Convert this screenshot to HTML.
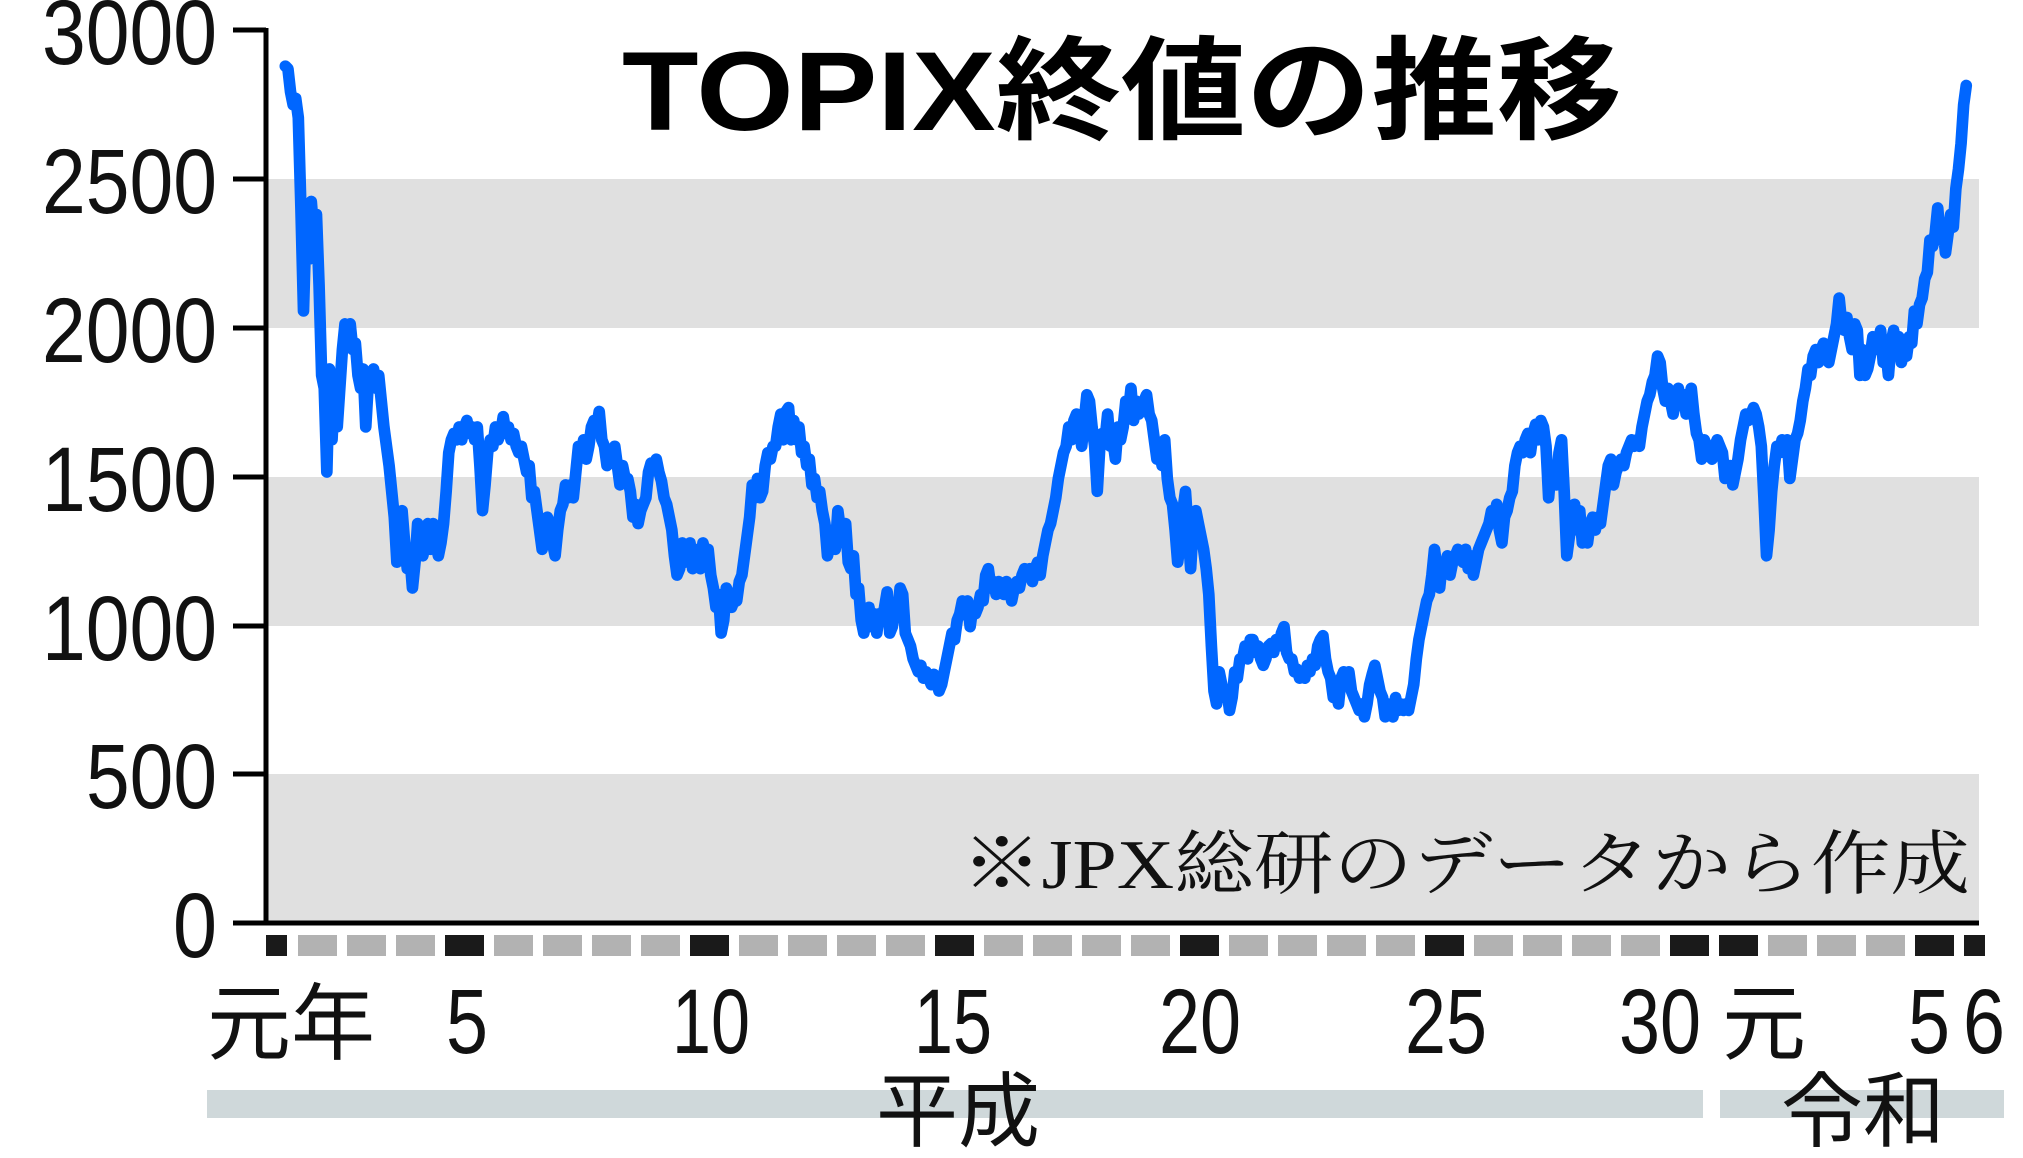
<!DOCTYPE html>
<html><head><meta charset="utf-8"><style>html,body{margin:0;padding:0;background:#fff}svg{display:block}</style></head>
<body>
<svg width="2023" height="1158" viewBox="0 0 2023 1158" xmlns="http://www.w3.org/2000/svg">
<rect width="2023" height="1158" fill="#fff"/>
<g fill="#e0e0e0">
<rect x="268" y="179" width="1711" height="149"/>
<rect x="268" y="477" width="1711" height="149"/>
<rect x="268" y="774" width="1711" height="149"/>
</g>
<g stroke="#000" stroke-width="5">
<line x1="266" y1="28" x2="266" y2="925"/>
<line x1="233" y1="923" x2="1979" y2="923"/>
<line x1="233" y1="30" x2="266" y2="30"/>
<line x1="233" y1="179" x2="266" y2="179"/>
<line x1="233" y1="328" x2="266" y2="328"/>
<line x1="233" y1="477" x2="266" y2="477"/>
<line x1="233" y1="626" x2="266" y2="626"/>
<line x1="233" y1="774" x2="266" y2="774"/>
</g>
<g font-family="'Liberation Sans', sans-serif" font-size="92" fill="#111" text-anchor="end">
<text x="217" y="64" textLength="175" lengthAdjust="spacingAndGlyphs">3000</text>
<text x="217" y="213" textLength="175" lengthAdjust="spacingAndGlyphs">2500</text>
<text x="217" y="362" textLength="175" lengthAdjust="spacingAndGlyphs">2000</text>
<text x="217" y="511" textLength="175" lengthAdjust="spacingAndGlyphs">1500</text>
<text x="217" y="660" textLength="175" lengthAdjust="spacingAndGlyphs">1000</text>
<text x="217" y="808" textLength="131" lengthAdjust="spacingAndGlyphs">500</text>
<text x="217" y="957" textLength="44" lengthAdjust="spacingAndGlyphs">0</text>
</g>
<text x="622" y="130" font-family="'Liberation Sans','Noto Sans CJK JP',sans-serif" font-weight="bold" font-size="112" textLength="1000" lengthAdjust="spacingAndGlyphs" fill="#000">TOPIX終値の推移</text>
<text x="962" y="888" font-family="'Liberation Serif','Noto Serif CJK SC',serif" font-size="70" textLength="1008" lengthAdjust="spacingAndGlyphs" fill="#111">※JPX総研のデータから作成</text>
<g fill="#b2b2b2">
<rect x="266" y="935" width="21" height="21" fill="#1a1a1a"/>
<rect x="298" y="935" width="39" height="21"/><rect x="347" y="935" width="39" height="21"/><rect x="396" y="935" width="39" height="21"/>
<rect x="445" y="935" width="39" height="21" fill="#1a1a1a"/>
<rect x="494" y="935" width="39" height="21"/><rect x="543" y="935" width="39" height="21"/><rect x="592" y="935" width="39" height="21"/><rect x="641" y="935" width="39" height="21"/>
<rect x="690" y="935" width="39" height="21" fill="#1a1a1a"/>
<rect x="739" y="935" width="39" height="21"/><rect x="788" y="935" width="39" height="21"/><rect x="837" y="935" width="39" height="21"/><rect x="886" y="935" width="39" height="21"/>
<rect x="935" y="935" width="39" height="21" fill="#1a1a1a"/>
<rect x="984" y="935" width="39" height="21"/><rect x="1033" y="935" width="39" height="21"/><rect x="1082" y="935" width="39" height="21"/><rect x="1131" y="935" width="39" height="21"/>
<rect x="1180" y="935" width="39" height="21" fill="#1a1a1a"/>
<rect x="1229" y="935" width="39" height="21"/><rect x="1278" y="935" width="39" height="21"/><rect x="1327" y="935" width="39" height="21"/><rect x="1376" y="935" width="39" height="21"/>
<rect x="1425" y="935" width="39" height="21" fill="#1a1a1a"/>
<rect x="1474" y="935" width="39" height="21"/><rect x="1523" y="935" width="39" height="21"/><rect x="1572" y="935" width="39" height="21"/><rect x="1621" y="935" width="39" height="21"/>
<rect x="1670" y="935" width="39" height="21" fill="#1a1a1a"/>
<rect x="1719" y="935" width="39" height="21" fill="#1a1a1a"/>
<rect x="1768" y="935" width="39" height="21"/><rect x="1817" y="935" width="39" height="21"/><rect x="1866" y="935" width="39" height="21"/>
<rect x="1915" y="935" width="39" height="21" fill="#1a1a1a"/>
<rect x="1964" y="935" width="21" height="21" fill="#1a1a1a"/>
</g>
<polyline fill="none" stroke="#0066ff" stroke-width="9" stroke-linejoin="round" stroke-linecap="round" transform="matrix(1.297 0 0 1.2886 0 1.7)" points="
220,50 222,52 224,70 226,80 228,75 230,90 232,160 234,240 236,170 238,200
240,155 242,180 244,165 246,220 248,290 250,300 252,365 254,285 256,340 258,300
260,330 262,300 264,270 266,250 268,260 270,250 272,270 274,265 276,290 278,300
280,285 282,330 284,295 286,300 288,285 290,300 292,290 294,310 296,330 298,345
300,360 302,380 304,400 306,435 308,400 310,395 312,420 314,440 316,430 318,455
320,435 322,405 324,410 326,430 328,420 330,405 332,425 334,405 336,420 338,430
340,420 342,405 344,380 346,350 348,340 350,335 352,340 354,330 356,340 358,330
360,325 362,335 364,330 366,340 368,330 370,360 372,395 374,375 376,350 378,340
380,345 382,330 384,340 386,335 388,322 390,335 392,330 394,340 396,335 398,345
400,350 402,345 404,355 406,365 408,360 410,385 412,380 414,395 416,410 418,425
420,410 422,400 424,405 426,420 428,430 430,410 432,395 434,390 436,375 438,385
440,375 442,385 444,365 446,345 448,350 450,340 452,355 454,345 456,330 458,325
460,330 462,318 464,340 466,345 468,360 470,355 472,350 474,345 476,360 478,375
480,360 482,370 484,370 486,380 488,400 490,390 492,405 494,395 496,390 498,385
500,365 502,358 504,362 506,355 508,365 510,372 512,385 514,390 516,400 518,410
520,430 522,445 524,440 526,420 528,435 530,425 532,420 534,440 536,425 538,430
540,440 542,420 544,430 546,425 548,445 550,455 552,470 554,460 556,490 558,480
560,455 562,460 564,470 566,465 568,465 570,450 572,445 574,430 576,415 578,400
580,375 582,385 584,370 586,385 588,380 590,360 592,350 594,355 596,345 598,345
600,330 602,320 604,340 606,318 608,315 610,340 612,325 614,340 616,330 618,350
620,345 622,360 624,355 626,375 628,370 630,385 632,380 634,395 636,405 638,430
640,420 642,410 644,425 646,395 648,410 650,420 652,405 654,435 656,440 658,430
660,460 662,455 664,480 666,490 668,480 670,470 672,485 674,475 676,490 678,475
680,480 682,470 684,458 686,490 688,485 690,470 692,475 694,455 696,460 698,490
700,495 702,500 704,510 706,515 708,520 710,515 712,525 714,520 716,525 718,530
720,522 722,528 724,535 726,530 728,520 730,510 732,500 734,490 736,495 738,480
740,475 742,465 744,475 746,465 748,485 750,470 752,475 754,470 756,460 758,465
760,445 762,440 764,455 766,450 768,460 770,450 772,455 774,460 776,450 778,455
780,465 782,455 784,450 786,455 788,445 790,440 792,445 794,440 796,450 798,440
800,435 802,445 804,430 806,420 808,410 810,405 812,395 814,385 816,370 818,360
820,350 822,345 824,330 826,340 828,325 830,320 832,330 834,345 836,325 838,305
840,310 842,330 844,345 846,380 848,345 850,335 852,340 854,320 856,345 858,340
860,355 862,330 864,340 866,330 868,310 870,320 872,300 874,325 876,310 878,320
880,315 882,310 884,305 886,320 888,325 890,340 892,355 894,350 896,360 898,340
900,370 902,385 904,390 906,410 908,435 910,420 912,395 914,380 916,410 918,440
920,405 922,395 924,405 926,415 928,425 930,440 932,460 934,500 936,535 938,545
940,520 942,530 944,540 946,535 948,550 950,540 952,520 954,525 956,510 958,510
960,500 962,510 964,495 966,495 968,505 970,500 972,510 974,515 976,510 978,500
980,498 982,505 984,495 986,500 988,490 990,485 992,505 994,510 996,510 998,520
1000,518 1002,525 1004,520 1006,525 1008,515 1010,520 1012,510 1014,515 1016,500 1018,495
1020,492 1022,510 1024,520 1026,525 1028,540 1030,535 1032,545 1034,525 1036,520 1038,530
1040,520 1042,535 1044,540 1046,545 1048,550 1050,545 1052,555 1054,545 1056,530 1058,522
1060,515 1062,525 1064,535 1066,540 1068,555 1070,545 1072,550 1074,555 1076,540 1078,550
1080,545 1082,550 1084,545 1086,550 1088,540 1090,530 1092,510 1094,495 1096,485 1098,475
1100,465 1102,460 1104,445 1106,425 1108,440 1110,455 1112,435 1114,440 1116,430 1118,445
1120,435 1122,430 1124,425 1126,430 1128,435 1130,425 1132,440 1134,430 1136,445 1138,435
1140,425 1142,420 1144,415 1146,410 1148,405 1150,395 1152,400 1154,390 1156,410 1158,420
1160,400 1162,395 1164,385 1166,380 1168,360 1170,350 1172,345 1174,350 1176,340 1178,335
1180,350 1182,335 1184,328 1186,340 1188,325 1190,330 1192,345 1194,385 1196,360 1198,370
1200,375 1202,350 1204,340 1206,380 1208,430 1210,415 1212,400 1214,390 1216,410 1218,395
1220,420 1222,415 1224,420 1226,405 1228,400 1230,410 1232,400 1234,405 1236,390 1238,375
1240,360 1242,355 1244,375 1246,365 1248,360 1250,355 1252,360 1254,350 1256,345 1258,340
1260,345 1262,340 1264,345 1266,330 1268,320 1270,310 1272,305 1274,295 1276,290 1278,275
1280,280 1282,300 1284,310 1286,300 1288,310 1290,320 1292,310 1294,300 1296,310 1298,305
1300,320 1302,310 1304,300 1306,320 1308,335 1310,340 1312,355 1314,340 1316,345 1318,350
1320,355 1322,345 1324,340 1326,345 1328,350 1330,370 1332,365 1334,360 1336,375 1338,365
1340,355 1342,340 1344,330 1346,320 1348,325 1350,320 1352,315 1354,320 1356,330 1358,345
1360,385 1362,430 1364,410 1366,380 1368,360 1370,345 1372,350 1374,340 1376,345 1378,340
1380,370 1382,355 1384,340 1386,335 1388,325 1390,310 1392,300 1394,285 1396,290 1398,275
1400,270 1402,280 1404,270 1406,265 1408,275 1410,280 1412,270 1414,260 1416,250 1418,230
1420,250 1422,255 1424,245 1426,260 1428,270 1430,250 1432,255 1434,290 1436,270 1438,290
1440,285 1442,275 1444,260 1446,270 1448,265 1450,255 1452,280 1454,270 1456,290 1458,265
1460,255 1462,270 1464,260 1466,280 1468,270 1470,275 1472,260 1474,265 1476,240 1478,250
1480,235 1482,230 1484,215 1486,210 1488,185 1490,190 1492,180 1494,160 1496,185 1498,175
1500,195 1502,180 1504,165 1506,175 1508,145 1510,130 1512,110 1514,80 1516,65"/>
<g font-family="'Liberation Sans','Noto Sans CJK JP',sans-serif" font-size="92" fill="#111" text-anchor="middle">
<text x="291" y="1053" textLength="168" lengthAdjust="spacingAndGlyphs" font-size="84">元年</text>
<text x="467" y="1053" textLength="42" lengthAdjust="spacingAndGlyphs">5</text>
<text x="711" y="1053" textLength="78" lengthAdjust="spacingAndGlyphs">10</text>
<text x="953" y="1053" textLength="78" lengthAdjust="spacingAndGlyphs">15</text>
<text x="1200" y="1053" textLength="82" lengthAdjust="spacingAndGlyphs">20</text>
<text x="1446" y="1053" textLength="82" lengthAdjust="spacingAndGlyphs">25</text>
<text x="1660" y="1053" textLength="82" lengthAdjust="spacingAndGlyphs">30</text>
<text x="1764" y="1053" font-size="84">元</text>
<text x="1929" y="1053" textLength="42" lengthAdjust="spacingAndGlyphs">5</text>
<text x="1984" y="1053" textLength="42" lengthAdjust="spacingAndGlyphs">6</text>
</g>
<rect x="207" y="1090" width="1496" height="28" fill="#cfd8da"/>
<rect x="1720" y="1090" width="284" height="28" fill="#cfd8da"/>
<g font-family="'Liberation Sans','Noto Sans CJK JP',sans-serif" font-size="82" fill="#111" text-anchor="middle">
<text x="958" y="1140">平成</text>
<text x="1863" y="1140">令和</text>
</g>
</svg>
</body></html>
